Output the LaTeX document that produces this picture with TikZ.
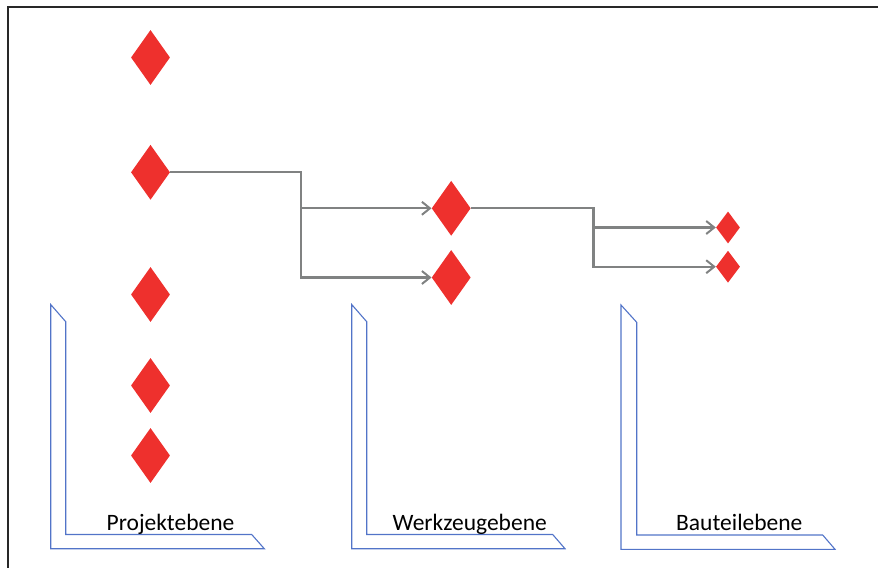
\documentclass[tikz,border=0pt]{standalone}
\usepackage{fontspec}
\setmainfont{Carlito}
\usetikzlibrary{shapes.geometric,arrows.meta}
\definecolor{cardred}{RGB}{238,48,45}
\definecolor{linkgray}{RGB}{128,130,130}
\definecolor{levelblue}{RGB}{82,116,200}
\definecolor{framegray}{RGB}{40,40,40}
\tikzset{
  card/.style={shape=diamond, fill=cardred, draw=none, inner sep=0pt,
               minimum width=39pt, minimum height=55pt},
  smallcard/.style={card, minimum width=24pt, minimum height=32pt},
  link/.style={draw=linkgray, line width=2.2pt},
  linkarrow/.style={link, -{Straight Barb[length=8pt,width=13pt,line width=2pt]}},
  level/.style={draw=levelblue, line width=1.1pt, line join=miter},
  levellabel/.style={anchor=base, font=\fontsize{23.5}{27}\selectfont, text=black, inner sep=0pt}
}
\begin{document}
\begin{tikzpicture}[x=1pt,y=-1pt]
  \useasboundingbox (0,0) rectangle (878,568);
  % outer frame (top and left edges)
  \draw[framegray, line width=2pt] (878,6.5) -- (8,6.5) -- (8,568);

  % level brackets
  \draw[level] (50.7,304.5) -- (65.7,321.7) -- (65.7,534.5) -- (251.7,534.5)
               -- (264.3,548.7) -- (50.7,548.7) -- cycle;
  \draw[level] (351.7,304.5) -- (366.7,321.7) -- (366.7,534.5) -- (552.7,534.5)
               -- (565,548.7) -- (351.7,548.7) -- cycle;
  \draw[level] (621,305) -- (636.7,322.3) -- (636.7,535) -- (822.7,535)
               -- (835,549.3) -- (621,549.3) -- cycle;

  % level labels
  \node[levellabel] (lp) at (170.5,530) {Projektebene};
  \node[levellabel] (lw) at (469.7,530) {Werkzeugebene};
  \node[levellabel] (lb) at (739.3,530) {Bauteilebene};

  % project level
  \node[card] (p1) at (150.5,57.5) {};
  \node[card] (p2) at (150.5,172.3) {};
  \node[card] (p3) at (150.5,294.5) {};
  \node[card] (p4) at (150.5,385.5) {};
  \node[card] (p5) at (150.5,455.5) {};

  % tool level
  \node[card] (w1) at (451.2,208.3) {};
  \node[card] (w2) at (451.2,277.5) {};

  % part level
  \node[smallcard] (b1) at (728,227.5) {};
  \node[smallcard] (b2) at (728,266.7) {};

  % branch points
  \coordinate (s1) at (301,208.3);
  \coordinate (s2) at (593.5,227.5);

  % connectors
  \draw[link] (p2.east) -| (s1);
  \draw[linkarrow] (s1) -- (w1.west);
  \draw[linkarrow] (s1) |- (w2.west);
  \draw[link] (w1.east) -| (s2);
  \draw[linkarrow] (s2) -- (b1.west);
  \draw[linkarrow] (s2) |- (b2.west);
\end{tikzpicture}
\end{document}
